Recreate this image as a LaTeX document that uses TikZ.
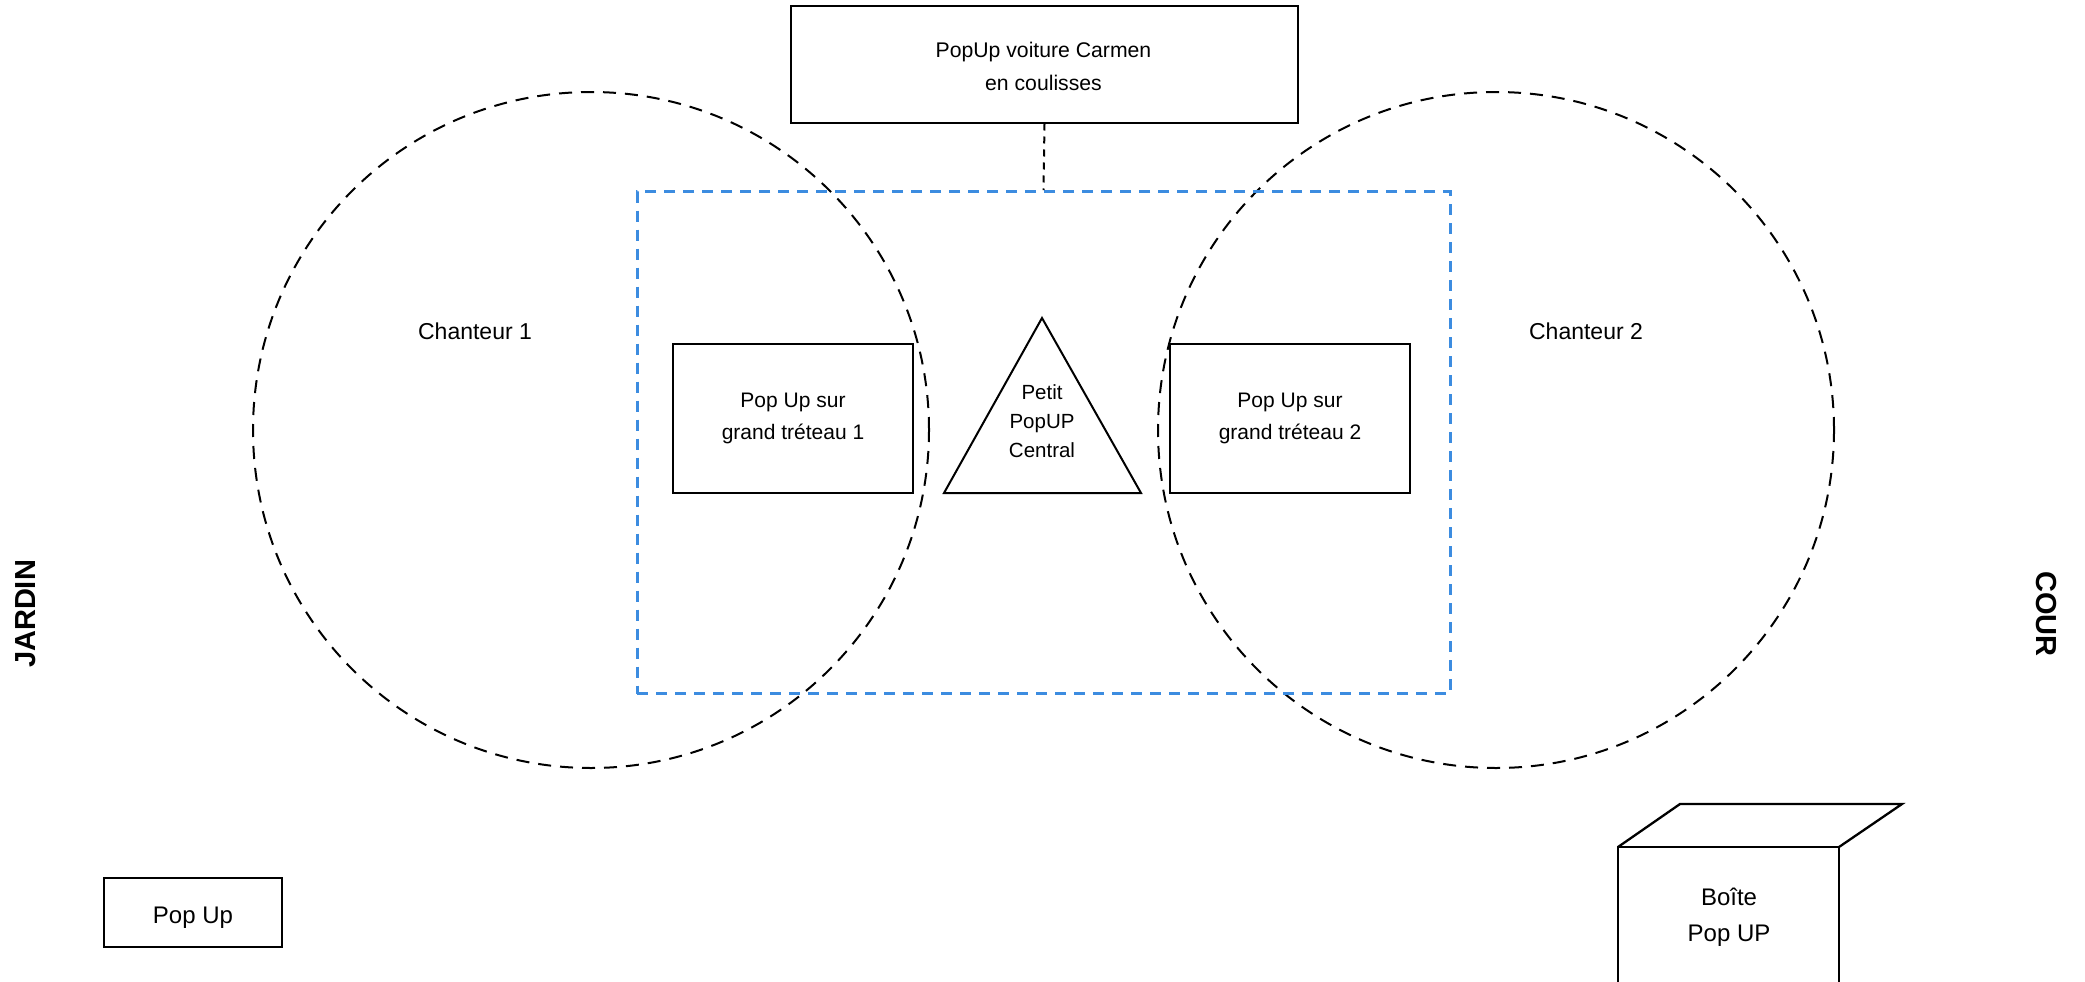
\documentclass[tikz,border=0pt]{standalone}
\usepackage{fontspec}
\setmainfont{Liberation Sans}
\definecolor{zoneblue}{RGB}{60,140,224}
\begin{document}
\begin{tikzpicture}[x=1pt,y=-1pt,
  solidbox/.style={draw=black, line width=2pt, inner sep=0pt, align=center},
  singer/.style={draw=black, line width=2pt, circle, inner sep=0pt, minimum size=676pt, dash pattern=on 13pt off 9pt},
  zone/.style={draw=zoneblue, line width=3pt, inner sep=0pt, dash pattern=on 11pt off 8pt},
  link/.style={draw=black, line width=2pt, dash pattern=on 7pt off 6pt},
  lbl/.style={inner sep=0pt, align=center, text=black},
  side/.style={inner sep=0pt, font=\fontsize{29}{34}\selectfont\bfseries}
]
\clip (0,0) rectangle (2085,982);
\fill[white] (0,0) rectangle (2085,982);

% singer zones
\node[singer] (c1) at (591,430) {};
\node[singer] (c2) at (1496,430) {};
\node[lbl, font=\fontsize{23}{28}\selectfont] (s1) at (475,331) {Chanteur 1};
\node[lbl, font=\fontsize{23}{28}\selectfont] (s2) at (1586,331) {Chanteur 2};

% central zone
\node[zone, minimum width=813pt, minimum height=502pt] (zone) at (1043.5,442.7) {};

% car box
\node[solidbox, minimum width=507pt, minimum height=116pt] (car) at (1044.5,64.5) {};
\node[lbl, font=\fontsize{21.2}{33.5}\selectfont] (cartxt) at (1043.5,66.5) {PopUp voiture Carmen\\en coulisses};
\draw[link] (car.south) -- (zone.north);

% treteaux
\node[solidbox, minimum width=240pt, minimum height=149pt, font=\fontsize{21}{32}\selectfont] (b1) at (793,418.5) {Pop Up sur\\grand tréteau 1};
\node[solidbox, minimum width=240pt, minimum height=149pt, font=\fontsize{21}{32}\selectfont] (b2) at (1290,418.5) {Pop Up sur\\grand tréteau 2};

% triangle
\coordinate (ta) at (1042,318);
\coordinate (tl) at (944,493);
\coordinate (tr) at (1141,493);
\draw[line width=2pt, line join=miter] (ta) -- (tl) -- (tr) -- cycle;
\node[lbl, font=\fontsize{20.5}{29}\selectfont] (tritxt) at (1042,421) {Petit\\PopUP\\Central};

% sides
\node[side, rotate=90] (jardin) at (26,614) {JARDIN};
\node[side, rotate=-90] (cour) at (2046,614) {COUR};

% pop up box
\node[solidbox, minimum width=178pt, minimum height=69pt] (pu) at (193,912.5) {};
\node[lbl, font=\fontsize{24}{28}\selectfont] (putxt) at (193,918) {Pop Up};

% cube
\coordinate (cfl) at (1618,847);
\coordinate (cfr) at (1839,847);
\coordinate (cbl) at (1680,804);
\coordinate (cbr) at (1902,804);
\coordinate (cbotl) at (1618,1000);
\coordinate (cbotr) at (1839,1000);
\draw[line width=2.3pt, line join=miter] (cbotl) -- (cfl) -- (cfr) -- (cbotr);
\draw[line width=2.3pt, line join=miter] (cfl) -- (cbl) -- (cbr) -- (cfr);
\node[lbl, font=\fontsize{24}{36.5}\selectfont] (cubetxt) at (1729,917) {Boîte\\Pop UP};
\end{tikzpicture}
\end{document}
